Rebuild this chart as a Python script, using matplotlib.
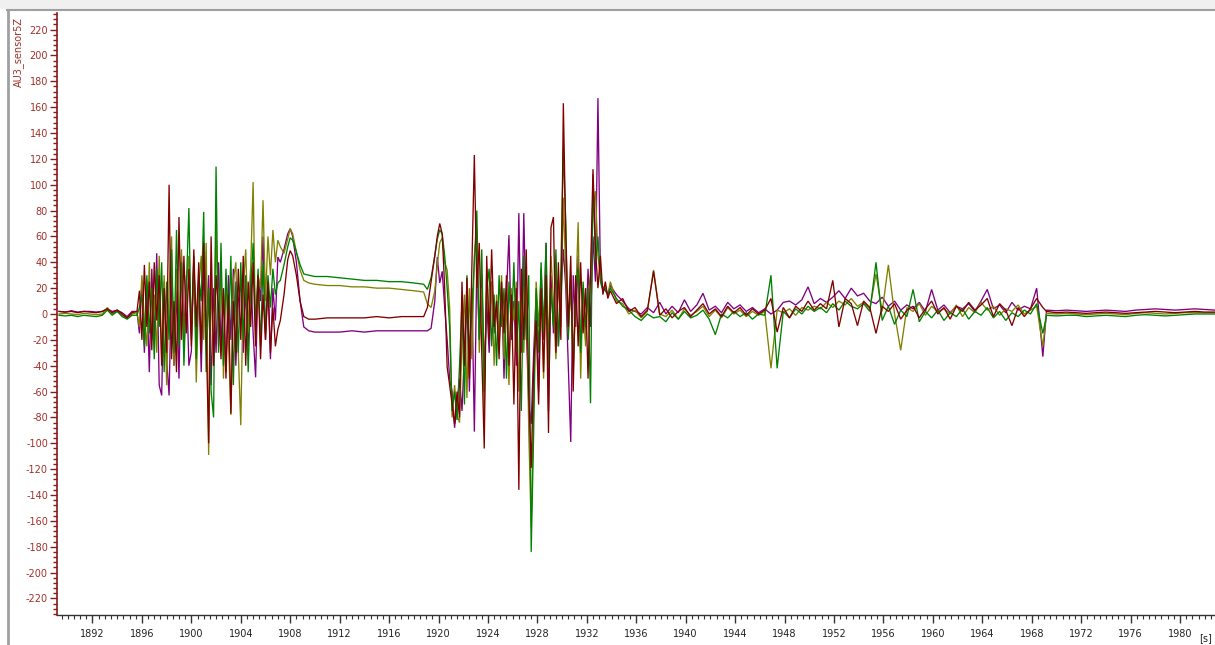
import numpy as np
import matplotlib
matplotlib.use("Agg")
import matplotlib.pyplot as plt
from matplotlib.ticker import MultipleLocator, FormatStrFormatter
from matplotlib.lines import Line2D
from matplotlib.patches import Rectangle

plt.rcParams['axes.unicode_minus'] = False
plt.rcParams['font.family'] = ['DejaVu Sans']

# ---------------- data ----------------
y_label = "AU3_sensor5Z"
x_unit = "[s]"

# segment 1: quiet start
t_s1 = [1889.3, 1889.8, 1890.3, 1890.8, 1891.3, 1891.8, 1892.3, 1892.8,
        1893.2, 1893.6, 1894.0, 1894.4, 1894.8, 1895.2]
darkred_s1 = [2, 1.5, 2, 1, 2, 1.5, 1, 2, 4, 1, 3, 0, -3, 1]
green_s1 = [-1, -1.5, -1, -2, -1, -1.5, -2, -1, 3, -1, 2, -2, -4, -1]
olive_s1 = [0, 0.5, 0, -0.5, 0.5, 0, -0.5, 0, 5, 0, 2, -1, -3, 0]
purple_s1 = [2, 1.5, 2.5, 1.5, 2, 2, 1.5, 2, 4, 2, 3, 1, -2, 2]

# segment 2: first burst, 1895.6 .. 1907.0 s
span_s2 = (1895.6, 1907.0)
darkred_s2 = [2, 18, -20, 38, -10, 25, -28, 40, -5, 30,
              -40, 20, -30, 100, -35, 10, -45, 75, -20, 45,
              -15, 35, -25, 50, -10, 40, -30, 55, -15, -100,
              60, -40, 30, 5, -35, 20, -50, 15, -77, 10,
              -30, 35, -20, 45, -40, 25, -10, 40, -25, 30,
              -35, 15, -20, 25, -30, 5, -25, -12]
green_s2 = [-1, 5, 15, -25, 30, -15, 20, -35, 35, -10,
            40, -45, 25, -20, 50, -30, 65, -25, 40, -40,
            20, 82, -20, 45, -35, 30, 10, 79, -45, 20,
            -60, -80, 114, -30, 55, -40, 35, -15, 45, -55,
            25, -30, 40, -20, 30, -45, 20, 55, -10, 35,
            -25, 40, -15, 30, 5, 35, 15, 24]
olive_s2 = [1, -10, 30, -5, -25, 40, -20, 15, -30, 45,
            -35, 30, -55, 20, 60, -40, 35, -10, 50, -30,
            25, 45, -15, 35, -53, 20, 45, -20, 55, -109,
            30, -40, 70, -25, 40, -50, 30, -20, -78, 25,
            40, -30, -86, 20, 50, -15, 35, 102, -20, 30,
            20, 88, 10, 60, 30, 65, 40, 57]
purple_s2 = [2, -15, 25, -30, 20, -45, 35, -20, 47, -55,
             -63, 25, -35, -63, 30, -40, 20, -50, 45, -15,
             30, -40, -29, 40, -20, 25, -45, 35, -10, 30,
             -55, 20, -30, 40, -25, 15, -45, 30, -20, 35,
             -40, 10, 25, -30, 20, -25, 35, -15, -49, 30,
             10, 60, -20, 25, -35, 20, -5, 44]

# segment 3: smooth bumps and plateau
t_s3 = [1907.2, 1907.5, 1907.8, 1908.0, 1908.2, 1908.5, 1908.8, 1909.1,
        1909.5, 1910.0, 1911.0, 1912.0, 1913.0, 1914.0, 1915.0, 1916.0,
        1917.0, 1918.0, 1918.8, 1919.1, 1919.4, 1919.7, 1919.9, 1920.1,
        1920.3, 1920.5, 1920.7, 1920.9]
darkred_s3 = [-5, 15, 42, 49, 45, 30, 10, -2, -4, -4, -3, -3, -3, -3,
              -2, -3, -2, -2, -2, 5, 25, 45, 60, 70, 62, 20, -41, -55]
green_s3 = [26, 38, 52, 59, 57, 48, 38, 31, 30, 29, 29, 28, 27, 26,
            26, 25, 25, 24, 23, 19, 28, 45, 58, 65, 62, 45, 20, -10]
olive_s3 = [52, 47, 58, 66, 62, 48, 34, 26, 24, 23, 22, 22, 21, 21,
            20, 20, 19, 18, 17, 8, 5, 18, 38, 55, 59, 40, 34, 5]
purple_s3 = [40, 50, 62, 66, 60, 40, 10, -10, -13, -14, -14, -14, -13, -14,
             -13, -13, -13, -13, -13, -13, -11, 10, 44, 24, 33, 5, -20, -50]

# segment 4: second burst, 1921.1 .. 1933.7 s
span_s4 = (1921.1, 1933.7)
darkred_s4 = [-70, -85, -60, -80, 25, -40, 28, -50, 35, 123,
              20, 55, -30, -104, 45, -20, 50, -10, 10, -35,
              25, -15, 30, -40, 15, -70, 20, -136, 35, -20,
              50, -60, -119, -40, -5, -70, 20, -45, 30, -92,
              67, 75, -30, 40, -20, 163, 60, -10, 45, -60,
              30, -25, 40, -15, 20, -50, 30, 112, 50, 20,
              45, 15, 25, 12]
green_s4 = [-75, -60, -82, -40, 10, -70, 30, -30, 5, 40,
            80, -20, 50, -60, 20, 35, -25, 15, -40, 30,
            -10, 20, -50, 25, -15, 40, -30, 10, -75, 45,
            -20, 30, -184, -90, 20, -30, 40, -15, 55, -40,
            20, -10, 50, -25, 35, 127, 70, -20, 30, -45,
            15, 35, -30, 25, -10, 20, -69, 108, 40, 60,
            25, 18, 20, 15]
olive_s4 = [-80, -55, -78, -84, -20, 15, -65, 20, -35, 45,
            65, -30, 20, -75, 35, -10, 25, -40, 15, -20,
            30, -35, 10, -55, 20, -5, 25, -60, 15, -30,
            35, -90, -165, -70, 25, -10, 30, -50, 20, -20,
            45, 10, -35, 25, -10, 90, 30, -15, 20, -30,
            10, 71, -50, 20, -25, 15, 30, 80, 95, 45,
            28, 20, 22, 14]
purple_s4 = [-60, -88, -70, -50, -75, -30, 15, -60, 20, -91,
             40, -20, 30, -45, 10, -30, 25, -15, 5, -25,
             20, -50, 15, 61, -20, 10, -40, 78, -30, 78,
             -10, -70, -85, -30, 15, -60, 35, -20, 55, -75,
             30, -15, 40, -25, 15, 50, 20, -40, -99, 30,
             -10, 45, -30, 20, -20, 35, -10, 60, 25, 167,
             30, 20, 18, 15]

# segment 5: low-level noise, 1933.9 .. 1968.9 s
span_s5 = (1933.9, 1968.9)
darkred_s5 = [18, 8, 12, 2, 5, -2, 3, 33, -1, 4,
              -3, 2, 5, -2, 3, 8, 0, 4, -2, 6,
              1, 5, -1, 4, 0, 3, 12, -14, 5, -3,
              6, 2, 10, 3, 8, 4, 26, -10, 12, 8,
              -9, 10, 5, -15, 6, 2, 8, -4, 3, 6,
              -3, 4, 10, 0, 5, -4, 6, 2, 9, 3,
              7, 12, -2, 8, 3, -9, 5, -2, 4, 12,
              5]
green_s5 = [20, 12, 6, 3, -2, -5, 0, -3, -2, -6,
            1, -4, 2, -3, -1, 3, -4, -16, 0, -3,
            2, -2, 1, -4, 0, -1, 30, -42, 2, -3,
            4, 0, 6, 2, 5, 1, 8, 3, 10, 6,
            4, 8, 2, 40, -5, 6, -8, 3, -2, 19,
            -6, 2, -3, 3, -5, 1, -2, 4, -4, 2,
            -1, 5, -3, 2, -5, 1, -2, 3, 0, 8,
            -15]
olive_s5 = [25, 10, 8, 0, 3, -3, 2, 34, 0, -2,
            3, -4, 4, -1, 2, 6, -2, 3, -3, 5,
            0, 3, -2, 2, -1, 2, -42, 3, 1, 4,
            -1, 5, 3, 6, 4, 9, 5, 10, 7, 12,
            6, 9, 4, 31, 2, 38, 0, -28, 5, 2,
            8, -1, 6, 2, 4, 0, 7, -2, 5, 1,
            9, 3, 6, -1, 4, 2, 7, 0, 3, 6,
            -25]
purple_s5 = [22, 15, 10, 4, 2, 0, 5, 1, 9, 0,
             6, 1, 11, 2, 7, 16, 3, 6, 1, 9,
             4, 7, 2, 5, 1, 4, 0, 3, 9, 10,
             7, 11, 21, 8, 12, 9, 13, 18, 12, 20,
             14, 16, 10, 8, 13, 6, 10, 3, 7, 4,
             9, 2, 19, 3, 7, 1, 6, 4, 8, 2,
             10, 19, 4, 7, 1, 9, 3, 6, 4, 20,
             -33]

# segment 6: flat tail, 1969.2 .. 1982.8 s
span_s6 = (1969.2, 1982.8)
darkred_s6 = [2, 1, 1.5, 1, 0.5, 1, 1.5, 1, 0.5, 1, 1.5, 2, 1.5, 1, 1.5, 2, 1.5, 1.5]
green_s6 = [-1, -1.5, -1, -1, -2, -1.5, -1, -1.5, -2, -1, -0.5, -1, -1.5, -1, -0.5, 0, 0, 0]
olive_s6 = [0.5, 0, 0.5, 0, -0.5, 0, 0.5, 0, -0.5, 0.5, 1, 0.5, 0, 0.5, 1, 1, 1, 1]
purple_s6 = [3, 2.5, 3, 2.5, 2, 2.5, 3, 2.5, 2, 3, 3.5, 4, 3.5, 3, 3.5, 4, 3.5, 3]

series_colors = {"purple": "#800080", "olive": "#808000",
                 "green": "#008000", "darkred": "#800000"}


def build(s1, s2, s3, s4, s5, s6):
    t = np.concatenate([
        np.asarray(t_s1, float),
        np.linspace(span_s2[0], span_s2[1], len(s2)),
        np.asarray(t_s3, float),
        np.linspace(span_s4[0], span_s4[1], len(s4)),
        np.linspace(span_s5[0], span_s5[1], len(s5)),
        np.linspace(span_s6[0], span_s6[1], len(s6)),
    ])
    v = np.concatenate([s1, s2, s3, s4, s5, s6]).astype(float)
    return t, v


data = {
    "purple": build(purple_s1, purple_s2, purple_s3, purple_s4, purple_s5, purple_s6),
    "olive": build(olive_s1, olive_s2, olive_s3, olive_s4, olive_s5, olive_s6),
    "green": build(green_s1, green_s2, green_s3, green_s4, green_s5, green_s6),
    "darkred": build(darkred_s1, darkred_s2, darkred_s3, darkred_s4, darkred_s5, darkred_s6),
}

# ---------------- figure ----------------
W, H = 1215, 645
fig = plt.figure(figsize=(W / 100, H / 100), dpi=100)
fig.patch.set_facecolor("white")

# window frame decoration
fig.patches.append(Rectangle((0, 1 - 9 / H), 1, 9 / H, transform=fig.transFigure,
                             facecolor="#f0f0f0", edgecolor="none", zorder=0))
fig.add_artist(Line2D([7 / W, 1], [1 - 10 / H, 1 - 10 / H], transform=fig.transFigure,
                      color="#a0a0a0", lw=1.5))
fig.add_artist(Line2D([8 / W, 8 / W], [0, 1 - 10 / H], transform=fig.transFigure,
                      color="#a0a0a0", lw=2))

ax = fig.add_axes([57 / W, (H - 615) / H, (W - 57) / W, (615 - 13) / H])
ax.set_facecolor("white")

for name in ["purple", "olive", "green", "darkred"]:
    t, v = data[name]
    ax.plot(t, v, color=series_colors[name], lw=0.95, solid_joinstyle="miter")

ax.set_xlim(1889.13, 1982.83)
ax.set_ylim(-232.8, 232.8)

ax.yaxis.set_major_locator(MultipleLocator(20))
ax.yaxis.set_minor_locator(MultipleLocator(4))
ax.xaxis.set_major_locator(MultipleLocator(4))
ax.xaxis.set_minor_locator(MultipleLocator(0.5))
ax.yaxis.set_major_formatter(FormatStrFormatter("%d"))
ax.xaxis.set_major_formatter(FormatStrFormatter("%d"))

for s in ["top", "right"]:
    ax.spines[s].set_visible(False)
ax.spines["left"].set_color("#8b1a1a")
ax.spines["left"].set_linewidth(1.2)
ax.spines["bottom"].set_color("#333333")
ax.spines["bottom"].set_linewidth(1.0)

red_lab = "#a0302a"
ax.tick_params(axis="y", which="major", direction="out", length=5, width=1,
               color="#8b1a1a", labelcolor=red_lab, labelsize=7, pad=1.5)
ax.tick_params(axis="y", which="minor", direction="out", length=3, width=1,
               color="#8b1a1a")
ax.tick_params(axis="x", which="major", direction="out", length=6, width=1,
               color="#333333", labelcolor="#222222", labelsize=7, pad=4)
ax.tick_params(axis="x", which="minor", direction="out", length=3, width=0.8,
               color="#333333")

fig.text(18 / W, 1 - 17 / H, y_label, rotation=90, ha="center", va="top",
         color=red_lab, fontsize=7)
fig.text(1212 / W, 1 - 638 / H, x_unit, ha="right", va="center",
         color="#222222", fontsize=7)

fig.savefig("out.png", dpi=100)
